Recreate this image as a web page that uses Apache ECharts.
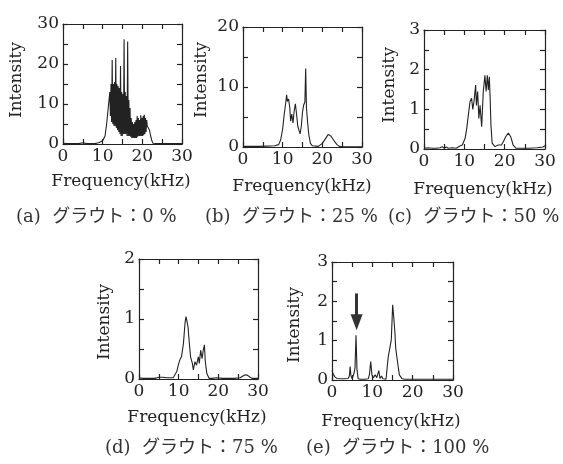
<!DOCTYPE html>
<html>
<head>
<meta charset="utf-8">
<script src="https://cdn.jsdelivr.net/npm/echarts@6/dist/echarts.min.js"></script>
<style>html,body{margin:0;padding:0;background:#fff}#c{width:563px;height:464px}</style>
</head>
<body>
<div id="c"></div>
<script>
// ---- data ----
const freqA = [0, 1, 2, 3, 4, 5, 5.5, 6, 7, 8, 9, 9.5, 10, 10.3, 10.6, 11.0, 11.3, 11.6,
  11.8, 11.95, 12.1, 12.25, 12.4, 12.55, 12.7, 12.85, 13.0, 13.15, 13.3, 13.45, 13.6, 13.75, 13.9, 14.05,
  14.2, 14.35, 14.5, 14.65, 14.8, 14.95, 15.1, 15.25, 15.4, 15.55, 15.7, 15.85, 16.0, 16.15, 16.3, 16.45,
  16.6, 16.75, 16.9, 17.05, 17.2, 17.35, 17.5, 17.65, 17.8, 17.95, 18.1, 18.25, 18.4, 18.55, 18.7, 18.85,
  19.0, 19.15, 19.3, 19.45, 19.6, 19.75, 19.9, 20.05, 20.2, 20.35, 20.5, 20.65, 20.8, 20.95, 21.1, 21.25,
  21.5, 21.8, 22.1, 22.4, 22.7, 23, 24, 25, 26, 27, 28, 29, 30];
const intA = [0.2, 0.1, 0.1, 0.1, 0.1, 0.3, 0.1, 0.1, 0.1, 0.1, 0.3, 0.1, 0.8, 0.3, 2, 5, 8, 8.5,
  13, 7, 15, 5.5, 21, 5, 15, 4.5, 15.5, 4.5, 21.5, 4, 15, 3.5, 14.5, 3,
  14, 2.5, 19.5, 2, 13, 2, 12.5, 2.5, 26.2, 2.5, 13, 2.5, 12, 2, 25.6, 2,
  11, 2, 9, 1.8, 6.5, 1.5, 5.5, 1.5, 5, 1.5, 5.5, 1.5, 6, 1.5, 7, 1.8,
  6.5, 2, 6, 2, 7.2, 2, 6.5, 2, 7, 2.2, 7.3, 2.5, 6.5, 3, 6, 4.5,
  5, 3.5, 2, 0.8, 0.2, 0.1, 0.1, 0.1, 0.1, 0.1, 0.1, 0.1, 0.1];

const freqB = [0, 2, 4, 6, 8, 9, 9.5, 10, 10.4, 10.8, 11.0, 11.2, 11.5, 11.8, 12.0, 12.3, 12.6, 12.9, 13.2, 13.5,
  13.8, 14.1, 14.4, 14.7, 15.0, 15.3, 15.6, 15.8, 16.0, 16.3, 16.6, 17.0, 17.5, 18, 19, 19.5, 20, 20.5, 21, 21.5,
  21.8, 22.2, 22.7, 23.2, 23.7, 24.3, 25, 27, 30];
const intB = [0.1, 0.1, 0.1, 0.15, 0.2, 0.4, 1.2, 3, 5.5, 7.5, 8.7, 7.6, 8, 6.5, 4.3, 5.5, 4, 6, 7.2, 5.5,
  3.5, 2.8, 2.2, 3.5, 5.8, 7, 7.5, 13.1, 6.5, 4, 2, 0.6, 0.2, 0.1, 0.1, 0.2, 0.6, 1.1, 1.6, 2.1,
  2.2, 1.8, 1.3, 0.8, 0.4, 0.1, 0.05, 0.05, 0.05];

const freqC = [0, 1, 2, 3, 4, 4.5, 5, 5.5, 6, 7, 8, 8.5, 9, 9.5, 9.8, 10.2, 10.6, 11.0, 11.4, 11.8,
  12.1, 12.4, 12.8, 13.0, 13.3, 13.6, 13.9, 14.3, 14.7, 15.1, 15.4, 15.7, 15.95, 16.2, 16.4, 16.6, 16.9, 17.6, 18.4, 18.8,
  19.2, 19.7, 20.25, 20.9, 21.5, 22.1, 22.8, 24, 26, 28, 29.5, 30];
const intC = [0.02, 0.03, 0.02, 0.02, 0.03, 0.06, 0.02, 0.05, 0.02, 0.03, 0.02, 0.05, 0.08, 0.1, 0.08, 0.27, 0.52, 0.86, 1.19, 1.28,
  1.0, 1.2, 1.61, 1.1, 1.45, 0.77, 1.1, 0.56, 1.45, 1.86, 1.45, 1.86, 1.49, 1.82, 1.28, 0.6, 0.15, 0.06, 0.1, 0.05,
  0.1, 0.19, 0.31, 0.4, 0.31, 0.1, 0.02, 0.02, 0.02, 0.03, 0.05, 0.08];

const freqD = [0, 1, 2, 3, 4, 5, 5.5, 6, 6.5, 7, 8, 8.6, 9.1, 9.5, 9.9, 10.3, 10.7, 11.2, 11.6, 11.85,
  12.1, 12.35, 12.7, 13.0, 13.45, 13.7, 14.1, 14.5, 14.96, 15.2, 15.55, 15.9, 16.2, 16.5, 16.7, 17.1, 17.7, 18.5, 19.5, 20,
  21, 22, 24, 25.5, 26.2, 26.8, 27.4, 28, 28.6, 30];
const intD = [0.02, 0.01, 0.01, 0.01, 0.01, 0.03, 0.05, 0.03, 0.04, 0.02, 0.02, 0.02, 0.05, 0.12, 0.23, 0.32, 0.37, 0.59, 0.93, 1.04,
  0.96, 0.87, 0.59, 0.37, 0.26, 0.15, 0.29, 0.23, 0.37, 0.26, 0.48, 0.34, 0.48, 0.57, 0.3, 0.09, 0.01, 0.01, 0.02, 0.01,
  0.01, 0.01, 0.01, 0.02, 0.05, 0.07, 0.06, 0.03, 0.01, 0.01];

const freqE = [0, 0.3, 0.7, 1.2, 2, 3, 4, 4.3, 4.5, 4.7, 5.0, 5.45, 5.7, 5.95, 6.2, 6.5, 7, 8, 9, 9.3,
  9.6, 9.9, 10.2, 10.7, 11.1, 11.6, 11.9, 12.3, 12.6, 12.9, 13.4, 13.7, 13.96, 14.4, 14.7, 15.04, 15.3, 15.6, 15.8, 16.3,
  16.7, 17.3, 18, 20, 22, 25, 28, 30];
const intE = [0.25, 0.15, 0.08, 0.04, 0.03, 0.03, 0.04, 0.1, 0.34, 0.1, 0.03, 0.17, 0.3, 1.14, 0.25, 0.03, 0.02, 0.02, 0.03, 0.15,
  0.47, 0.13, 0.05, 0.13, 0.06, 0.24, 0.04, 0.1, 0.03, 0.08, 0.02, 0.34, 0.6, 0.64, 1.02, 1.91, 1.61, 1.2, 0.8, 0.42,
  0.13, 0.04, 0.02, 0.02, 0.02, 0.02, 0.02, 0.02];

// arrow in panel (e): x position, shaft top, head centre
const arrowE = [6.1, 2.2, 1.47];

const yMaxes = [30, 20, 3, 2, 3];
const yIntervals = [10, 10, 1, 1, 1];
const captions = ['(a)  グラウト：0 %', '(b)  グラウト：25 %', '(c)  グラウト：50 %', '(d)  グラウト：75 %', '(e)  グラウト：100 %'];
const xTitle = 'Frequency(kHz)';
const yTitle = 'Intensity';

// ---- layout ----
const grids = [
  {left: 63, top: 24, width: 119, height: 120},
  {left: 243, top: 27, width: 119, height: 120},
  {left: 424, top: 30, width: 121, height: 119},
  {left: 139, top: 259, width: 119, height: 120},
  {left: 332, top: 262, width: 121, height: 118}
];
const xTitlePos = [[121, 182], [302, 187], [483, 190], [197, 418], [391, 422]];
const yTitlePos = [[17, 80], [202, 80], [390, 85], [105, 322], [295, 325]];
const capPos = [[16, 217], [205, 217], [388, 217], [105, 448], [306, 448]];

const serif = "'DejaVu Serif', 'Liberation Serif', serif";
const ink = '#222';
const lineSt = {color: ink, width: 1.2};

const xAxes = [], yAxes = [], series = [], graphics = [];
const allData = [[freqA, intA], [freqB, intB], [freqC, intC], [freqD, intD], [freqE, intE]];

grids.forEach((g, i) => {
  ['bottom', 'top'].forEach(pos => {
    xAxes.push({
      type: 'value', gridIndex: i, position: pos, min: 0, max: 30, interval: 10,
      axisLine: {show: true, onZero: false, lineStyle: lineSt},
      axisTick: {show: true, inside: true, length: 5, lineStyle: lineSt},
      minorTick: {show: true, splitNumber: 2, length: 5, lineStyle: lineSt},
      splitLine: {show: false},
      axisLabel: {show: pos === 'bottom', color: ink, fontFamily: serif, fontSize: 17, margin: 4}
    });
  });
  ['left', 'right'].forEach(pos => {
    yAxes.push({
      type: 'value', gridIndex: i, position: pos, min: 0, max: yMaxes[i], interval: yIntervals[i],
      axisLine: {show: true, onZero: false, lineStyle: lineSt},
      axisTick: {show: true, inside: true, length: 5, lineStyle: lineSt},
      minorTick: {show: true, splitNumber: 2, length: 5, lineStyle: lineSt},
      splitLine: {show: false},
      axisLabel: {show: pos === 'left', color: ink, fontFamily: serif, fontSize: 17, margin: 4}
    });
  });
  const [fx, fy] = allData[i];
  const s = {
    type: 'line', xAxisIndex: i * 2, yAxisIndex: i * 2,
    data: fx.map((f, k) => [f, fy[k]]),
    showSymbol: false, symbol: 'none', smooth: false,
    lineStyle: {color: ink, width: 1.1},
    silent: true
  };
  if (i === 4) {
    s.markLine = {
      silent: true, symbol: ['none', 'triangle'], symbolSize: [12, 16],
      label: {show: false},
      lineStyle: {color: '#333', width: 3, type: 'solid'},
      data: [[{coord: [arrowE[0], arrowE[1]]}, {coord: [arrowE[0], arrowE[2]]}]]
    };
  }
  series.push(s);

  graphics.push({type: 'text', x: xTitlePos[i][0], y: xTitlePos[i][1],
    style: {text: xTitle, font: '17px ' + serif, fill: ink, align: 'center', verticalAlign: 'middle'}});
  graphics.push({type: 'text', x: yTitlePos[i][0], y: yTitlePos[i][1], rotation: Math.PI / 2,
    style: {text: yTitle, font: '17px ' + serif, fill: ink, align: 'center', verticalAlign: 'middle'}});
  graphics.push({type: 'text', x: capPos[i][0], y: capPos[i][1],
    style: {text: captions[i], font: "18px 'DejaVu Serif', 'Noto Sans CJK JP', serif", fill: '#333', align: 'left', verticalAlign: 'middle'}});
});

const chart = echarts.init(document.getElementById('c'), null, {renderer: 'canvas'});
chart.setOption({
  animation: false,
  backgroundColor: '#fff',
  grid: grids,
  xAxis: xAxes,
  yAxis: yAxes,
  series: series,
  graphic: graphics
});
</script>
</body>
</html>
